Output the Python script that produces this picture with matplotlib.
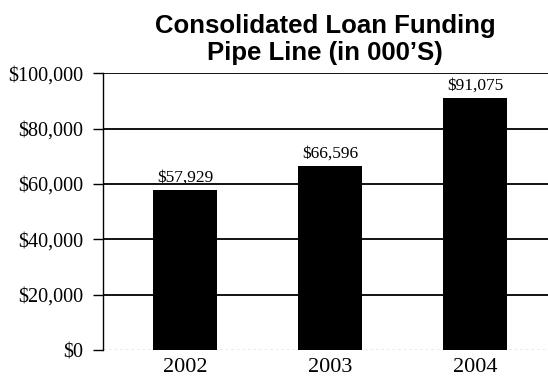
import matplotlib
matplotlib.use("Agg")
import matplotlib.pyplot as plt
from matplotlib.ticker import FuncFormatter

years = ["2002", "2003", "2004"]
funding = [57929, 66596, 91075]
y_ticks = [0, 20000, 40000, 60000, 80000, 100000]
title_lines = ["Consolidated Loan Funding", "Pipe Line (in 000\u2019S)"]

fig = plt.figure(figsize=(5.48, 3.83), dpi=100)
ax = fig.add_axes([0.188, 0.086, 0.812, 0.723])

x = range(len(years))
bars = ax.bar(x, funding, width=0.44, color="black", zorder=3)

# value labels above bars
for b, v in zip(bars, funding):
    ax.text(b.get_x() + b.get_width() / 2, v + 2900, "${:,}".format(v),
            ha="center", va="baseline", fontsize=12.5, family="Liberation Serif",
            zorder=4)

ax.set_xlim(-0.566, 2.503)
ax.set_ylim(0, 100000)
ax.set_xticks(list(x))
ax.set_xticklabels(years, family="Liberation Serif", fontsize=16)
ax.set_yticks(y_ticks)
ax.yaxis.set_major_formatter(FuncFormatter(lambda v, p: "${:,.0f}".format(v)))
for lbl in ax.get_yticklabels():
    lbl.set_family("Liberation Serif")
    lbl.set_fontsize(14.5)

# horizontal grid lines, the baseline is faint and dotted
for t in y_ticks[1:]:
    ax.axhline(t, color="black", lw=1.3, zorder=1)
ax.axhline(0, color="#999999", lw=1.0, ls=(0, (2, 2)), zorder=2)

for s in ["top", "right", "bottom"]:
    ax.spines[s].set_visible(False)
ax.spines["left"].set_linewidth(1.0)
ax.tick_params(axis="y", length=7, width=1.0, pad=7)
ax.tick_params(axis="x", length=0, pad=6)

# two-line bold title, each line on its own baseline
fig.text(0.593, 0.914, title_lines[0], ha="center", va="baseline",
         fontsize=18.5, fontweight="bold", family="Liberation Sans")
fig.text(0.593, 0.843, title_lines[1], ha="center", va="baseline",
         fontsize=18.5, fontweight="bold", family="Liberation Sans")

fig.savefig("out.png", dpi=100)
